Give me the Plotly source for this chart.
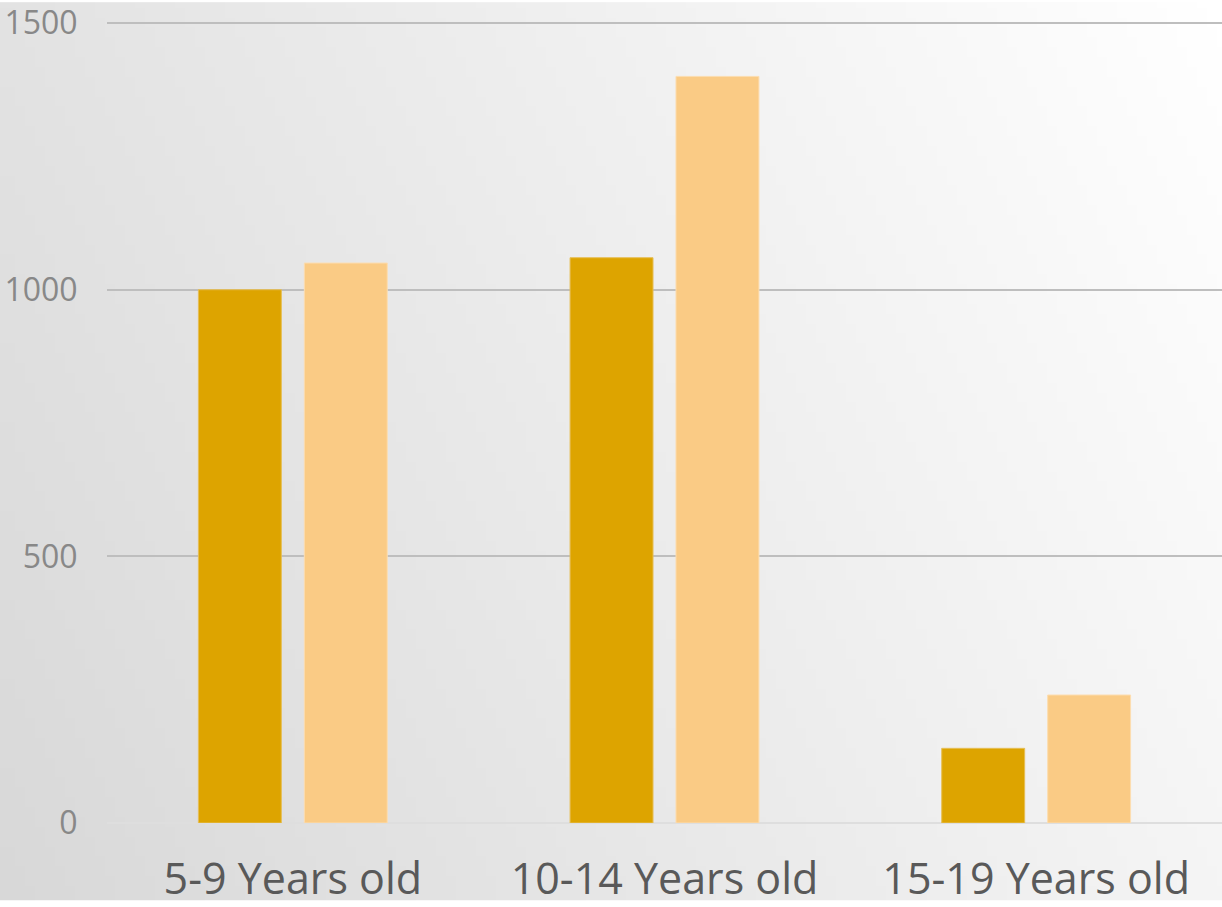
import base64, struct, zlib
import plotly.graph_objects as go

categories = ["5-9 Years old", "10-14 Years old", "15-19 Years old"]
series_a = [1000, 1060, 140]
series_b = [1050, 1400, 240]
y_ticks = [0, 500, 1000, 1500]

# --- background gradient image (diagonal, grey bottom-left -> white top-right)
def gradient_png(w=122, h=91, c0=216, c1=255, a=0.73, b=0.27):
    raw = bytearray()
    for j in range(h):
        raw.append(0)
        for i in range(w):
            t = a * (i / (w - 1)) + b * (1 - j / (h - 1))
            v = int(round(c0 + (c1 - c0) * t))
            raw += bytes((v, v, v))
    def chunk(tag, data):
        c = struct.pack(">I", len(data)) + tag + data
        return c + struct.pack(">I", zlib.crc32(tag + data) & 0xFFFFFFFF)
    png = b"\x89PNG\r\n\x1a\n"
    png += chunk(b"IHDR", struct.pack(">IIBBBBB", w, h, 8, 2, 0, 0, 0))
    png += chunk(b"IDAT", zlib.compress(bytes(raw), 9))
    png += chunk(b"IEND", b"")
    return "data:image/png;base64," + base64.b64encode(png).decode()

fig = go.Figure()
fig.add_trace(go.Bar(x=categories, y=series_a, name="A",
                     marker=dict(color="#DDA400", line=dict(color="#E6BE55", width=1))))
fig.add_trace(go.Bar(x=categories, y=series_b, name="B",
                     marker=dict(color="#FACB85", line=dict(color="#FCDDB0", width=1))))

fig.update_layout(
    width=1222, height=907,
    margin=dict(l=107, r=0, t=20, b=78),
    barmode="group", bargap=0.43, bargroupgap=0.217,
    showlegend=False,
    paper_bgcolor="rgba(0,0,0,0)", plot_bgcolor="rgba(0,0,0,0)",
    images=[dict(source=gradient_png(), xref="paper", yref="paper",
                 x=-107/1115, y=1 + 20/809, sizex=1222/1115, sizey=907/809,
                 xanchor="left", yanchor="top", sizing="stretch", layer="below")],
    font=dict(family="Open Sans, sans-serif"),
)
fig.update_yaxes(range=[0, 1502], tickvals=y_ticks, showgrid=True,
                 gridcolor="#BEBEBE", gridwidth=1.5,
                 zeroline=True, zerolinecolor="#DEDEDE", zerolinewidth=1.5,
                 showline=False, ticks="outside", ticklen=22,
                 tickcolor="rgba(0,0,0,0)", ticklabeloverflow="allow",
                 tickfont=dict(size=32, color="#888888", family="Open Sans, sans-serif"))
fig.update_xaxes(showgrid=False, showline=False, ticks="outside", ticklen=18,
                 tickcolor="rgba(0,0,0,0)", ticklabeloverflow="allow",
                 tickfont=dict(size=43, color="#595959", family="Open Sans, sans-serif"))

fig.write_html("out.html", config={"displayModeBar": False},
               post_script="document.body.style.margin='0';document.body.style.overflow='hidden';")
